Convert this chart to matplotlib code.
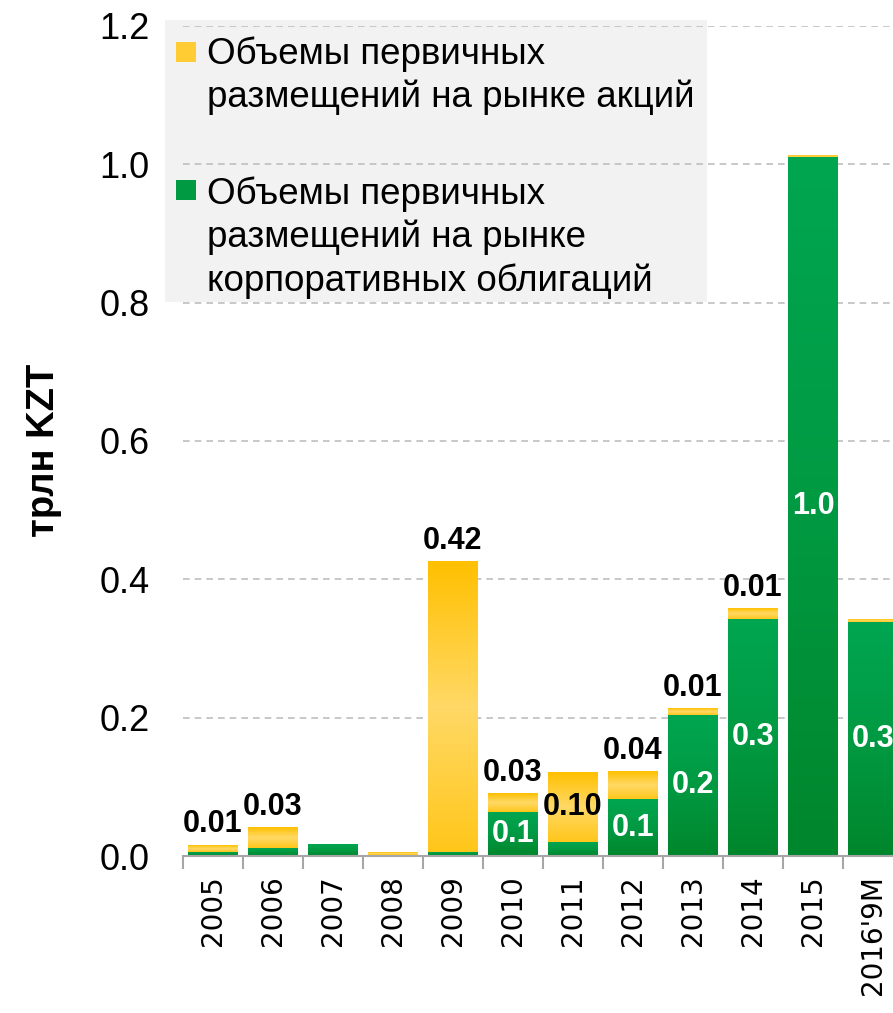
import numpy as np
import matplotlib
matplotlib.use('Agg')
import matplotlib.pyplot as plt
from matplotlib.patches import Rectangle
from matplotlib.colors import LinearSegmentedColormap

plt.rcParams['font.family'] = ['Liberation Sans', 'DejaVu Sans']

# data (трлн KZT)
years = ['2005', '2006', '2007', '2008', '2009', '2010', '2011', '2012',
         '2013', '2014', '2015', "2016'9M"]
bonds = [0.006, 0.012, 0.017, 0.002, 0.006, 0.064, 0.020, 0.082, 0.204, 0.343, 1.011, 0.338]
equity = [0.010, 0.029, 0.0, 0.004, 0.420, 0.027, 0.101, 0.040, 0.009, 0.015, 0.002, 0.003]
eq_labels_top = ['0.01', '0.03', '', '', '0.42', '0.03', '', '0.04', '0.01', '0.01', '', '']
eq_labels_mid = ['', '', '', '', '', '', '0.10', '', '', '', '', '']
bond_labels = ['', '', '', '', '', '0.1', '', '0.1', '0.2', '0.3', '1.0', '0.3']
legend_eq = 'Объемы первичных\nразмещений на рынке акций'
legend_bond = 'Объемы первичных\nразмещений на рынке\nкорпоративных облигаций'

W, H = 893, 1013
fig = plt.figure(figsize=(W / 100, H / 100), dpi=100)
fig.patch.set_facecolor('white')
ax = fig.add_axes([183 / W, 157 / H, 720 / W, 830 / H])
ax.patch.set_visible(False)

green_cm = LinearSegmentedColormap.from_list('g', ['#00A651', '#009A42', '#00862C'])
yellow_cm = LinearSegmentedColormap.from_list('y', ['#FFC000', '#FFD966', '#FFC61A'])

x = np.arange(len(years))
bw = 0.83
b1 = ax.bar(x, bonds, bw, color='#009A42', zorder=2)
b2 = ax.bar(x, equity, bw, bottom=bonds, color='#FFCC33', zorder=2)

# vertical gradient fill on each bar
grad = np.linspace(0, 1, 256).reshape(-1, 1)
for bars, cm in ((b1, green_cm), (b2, yellow_cm)):
    for p in bars:
        if p.get_height() <= 0:
            continue
        x0, y0 = p.get_x(), p.get_y()
        ax.imshow(grad, cmap=cm, aspect='auto', zorder=2.5, interpolation='bilinear',
                  extent=[x0, x0 + p.get_width(), y0, y0 + p.get_height()], origin='upper')

ax.bar_label(b2, labels=eq_labels_top, padding=4, fontsize=22, fontweight='bold', zorder=4)
ax.bar_label(b2, labels=eq_labels_mid, label_type='center', fontsize=22, fontweight='bold', zorder=4)
ax.bar_label(b1, labels=bond_labels, label_type='center', fontsize=22, fontweight='bold',
             color='white', zorder=4)

ax.set_xlim(-0.5, len(years) - 0.5)
ax.set_ylim(0, 1.2)
ax.set_yticks(np.arange(0, 1.21, 0.2))
ax.set_yticklabels(['%.1f' % v for v in np.arange(0, 1.21, 0.2)], fontsize=26)
ax.tick_params(axis='y', length=0, pad=24)
ax.set_xticks(x)
ax.set_xticklabels(years, rotation=90, fontsize=20, family='DejaVu Sans')
ax.tick_params(axis='x', which='major', length=0, pad=14)
ax.set_xticks(np.arange(-0.5, len(years), 1), minor=True)
ax.tick_params(axis='x', which='minor', length=9, width=1.5, color='#A6A6A6')

for s in ['left', 'right', 'top']:
    ax.spines[s].set_visible(False)
ax.spines['bottom'].set_color('#A6A6A6')
ax.spines['bottom'].set_linewidth(1.5)
ax.spines['bottom'].set_zorder(3)

for v in np.arange(0.2, 1.21, 0.2):
    ax.axhline(v, color='#BFBFBF', lw=1.2, dashes=(4, 3), zorder=1)

fig.text(44 / W, 1 - 450 / H, 'трлн KZT', rotation=90, ha='center', va='center',
         fontsize=27.5, fontweight='bold')

# legend box
fig.patches.append(Rectangle((165 / W, 1 - 302 / H), 542 / W, 282 / H, transform=fig.transFigure,
                             facecolor='#F2F2F2', edgecolor='none', zorder=-1))
fig.patches.append(Rectangle((176 / W, 1 - 62 / H), 20 / W, 20 / H, transform=fig.transFigure,
                             facecolor='#FFCC33', edgecolor='none', zorder=3))
fig.patches.append(Rectangle((176 / W, 1 - 200 / H), 20 / W, 20 / H, transform=fig.transFigure,
                             facecolor='#009A42', edgecolor='none', zorder=3))
fig.text(207 / W, 1 - 36 / H, legend_eq, va='top', ha='left', fontsize=26.5, linespacing=1.3, zorder=3)
fig.text(207 / W, 1 - 176 / H, legend_bond, va='top', ha='left', fontsize=26.5, linespacing=1.3, zorder=3)

fig.savefig('out.png', dpi=100)
